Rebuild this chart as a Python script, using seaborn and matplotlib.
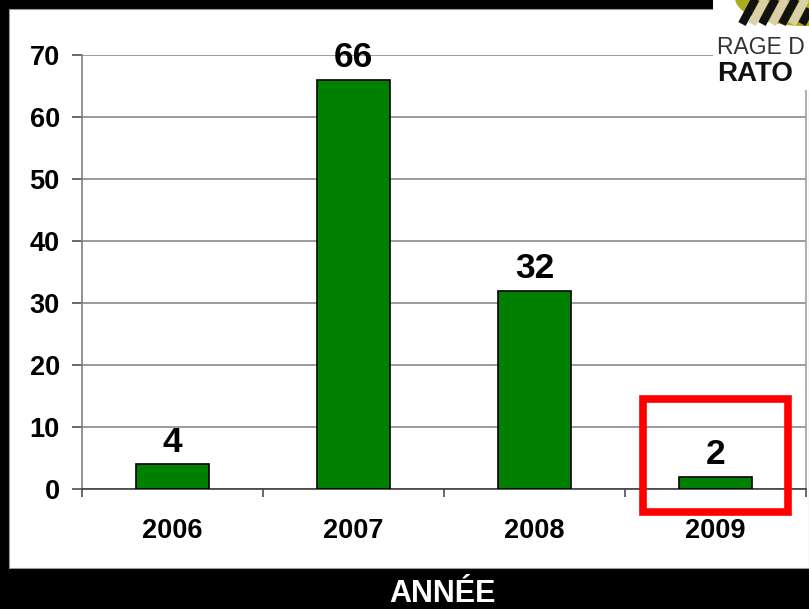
import matplotlib
matplotlib.use('Agg')
import matplotlib.pyplot as plt
import seaborn as sns
import pandas as pd
from matplotlib.patches import Rectangle, Ellipse

# Data
years = ['2006', '2007', '2008', '2009']
counts = [4, 66, 32, 2]
x_title = 'ANNÉE'
highlight = '2009'

df = pd.DataFrame({'year': years, 'count': counts})

sns.set_style('white')
plt.rcParams['font.family'] = ['Liberation Sans', 'DejaVu Sans']
plt.rcParams['text.color'] = 'black'
plt.rcParams['xtick.color'] = 'black'
plt.rcParams['ytick.color'] = 'black'

W, H = 809, 609
fig = plt.figure(figsize=(W / 100, H / 100), dpi=100, facecolor='black')

# white slide panel
fig.add_artist(Rectangle((9 / W, 1 - 568 / H), 1 - 9 / W, (568 - 9) / H,
                         transform=fig.transFigure, facecolor='white',
                         edgecolor='#999999', lw=0.8, zorder=-1))

ax = fig.add_axes([82 / W, 1 - 489 / H, (806 - 82) / W, (489 - 55) / H])
ax.set_facecolor('white')

sns.barplot(data=df, x='year', y='count', color='#008000', saturation=1,
            edgecolor='black', linewidth=1.2, width=0.4, ax=ax, zorder=3)

ax.set_xlim(-0.5, len(years) - 0.5)
ax.set_ylim(0, 70)
ax.set_yticks(range(0, 71, 10))
ax.yaxis.grid(True, color='#808080', lw=1.1, zorder=0)
ax.set_axisbelow(True)

ax.spines['top'].set_visible(False)
ax.spines['left'].set_color('#808080')
ax.spines['right'].set_color('#a0a0a0')
ax.spines['bottom'].set_color('#404040')
for s in ['left', 'right', 'bottom']:
    ax.spines[s].set_linewidth(1.2)

ax.tick_params(axis='y', direction='out', length=7, width=1.1, color='#404040',
               labelcolor='black', pad=9, labelsize=19.5, left=True)
ax.set_xticks([i - 0.5 for i in range(len(years) + 1)], minor=True)
ax.tick_params(axis='x', which='minor', direction='out', length=6, width=1.1,
               color='#404040', bottom=True)
ax.tick_params(axis='x', which='major', length=0, pad=21, labelsize=19.5,
               labelcolor='black')
for lab in ax.get_xticklabels() + ax.get_yticklabels():
    lab.set_fontweight('bold')
ax.set_xlabel('')
ax.set_ylabel('')

for i, v in enumerate(counts):
    ax.annotate(str(v), (i, v), xytext=(0, 4), textcoords='offset points',
                ha='center', va='bottom', fontsize=25.5, fontweight='bold',
                color='black')

# red highlight box around 2009
hi = years.index(highlight)
ax.add_patch(Rectangle((hi - 0.4, -3.7), 0.8, 18.2, fill=False, edgecolor='#ff0000',
                       lw=5.5, clip_on=False, zorder=6))

fig.text(442 / W, 1 - 594 / H, x_title, color='white', fontsize=22,
         fontweight='bold', ha='center', va='center')

# logo in the top-right corner
fig.add_artist(Rectangle((713 / W, 1 - 90 / H), 1, 90 / H, transform=fig.transFigure,
                         facecolor='white', edgecolor='none', zorder=5))
fig.add_artist(Ellipse((805 / W, 1 + 2 / H), 140 / W, 56 / H, transform=fig.transFigure,
                       facecolor='#a9ad1e', edgecolor='none', zorder=6))
for k, c in enumerate(['#111111', '#d9cfa8', '#111111', '#d9cfa8', '#111111', '#d9cfa8', '#111111']):
    x0 = 742 + k * 10
    fig.add_artist(plt.Line2D([x0 / W, (x0 + 14) / W], [1 - 24 / H, 1 + 2 / H],
                              transform=fig.transFigure, color=c, lw=6,
                              solid_capstyle='butt', zorder=7))
fig.text(717 / W, 1 - 48 / H, 'RAGE D', fontsize=16.5, color='#333333',
         ha='left', va='center', zorder=8)
fig.text(717 / W, 1 - 74 / H, 'RATO', fontsize=20, fontweight='bold', color='#111111',
         ha='left', va='center', zorder=8)

fig.savefig('out.png', dpi=100, facecolor='black')
